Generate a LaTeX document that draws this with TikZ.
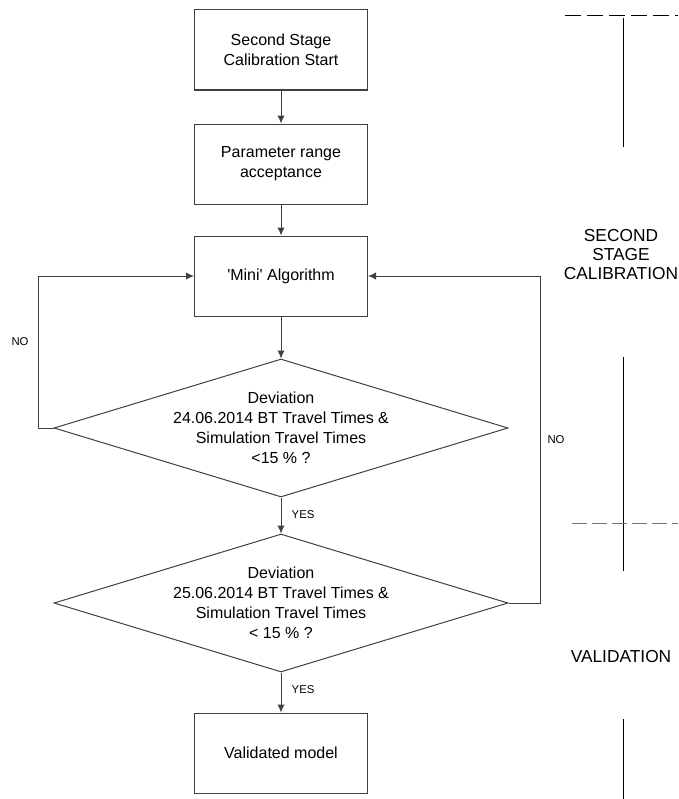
\documentclass[tikz,border=0pt]{standalone}
\usepackage{fontspec}
\setmainfont{Liberation Sans}
\usetikzlibrary{shapes,arrows.meta,positioning}
\tikzstyle{block}=[rectangle, draw=black!75, line width=0.75pt, minimum width=129.75pt, minimum height=60pt, inner sep=2pt, align=center, font=\fontsize{12}{15}\selectfont]
\tikzstyle{dia}=[diamond, draw=black!75, line width=0.75pt, minimum width=340.5pt, minimum height=103.5pt, inner sep=0pt]
\tikzstyle{txt}=[align=center, font=\fontsize{12}{15}\selectfont]
\tikzstyle{lbl}=[font=\fontsize{8.5}{10}\selectfont]
\tikzstyle{stage}=[align=center, font=\fontsize{13}{14.25}\selectfont]
\tikzstyle{l1}=[line width=0.75pt, draw=black!75, -{Latex[length=6pt, width=5.5pt]}]
\tikzstyle{sep}=[line width=0.65pt, black]

\begin{document}
\begin{tikzpicture}[x=0.75pt,y=-0.75pt]
    \useasboundingbox (0,0) rectangle (678,799);

    \node[block] (start) at (281, 50)  {Second Stage\\Calibration Start};
    \node[block] (range) at (281, 164) {Parameter range\\acceptance};
    \node[block] (mini)  at (281, 276) {\textquotesingle Mini\textquotesingle{} Algorithm};
    \node[dia]   (d1)    at (281, 428) {};
    \node[txt]           at (d1)       {Deviation\\24.06.2014 BT Travel Times \&\\Simulation Travel Times\\<15 \% ?};
    \node[dia]   (d2)    at (281, 603) {};
    \node[txt]           at (d2)       {Deviation\\25.06.2014 BT Travel Times \&\\Simulation Travel Times\\< 15 \% ?};
    \node[block] (valid) at (281, 753) {Validated model};

    \draw[l1] (start) -- (range);
    \draw[l1] (range) -- (mini);
    \draw[l1] (mini) -- (d1);
    \draw[l1] (d1.south) -- (d2.north);
    \draw[l1] (d2.south) -- (valid);
    \draw[l1] (d1.west) -- ++(-15,0) |- (mini.west);
    \draw[l1] (d2.east) -- ++(32,0) |- (mini.east);

    \node[lbl] at (20, 342) {NO};
    \node[lbl] at (556, 440) {NO};
    \node[lbl, anchor=west] at (287, 515) {YES};
    \node[lbl, anchor=west] at (287, 690) {YES};

    % stage separators
    \draw[sep, dash pattern=on 12pt off 4.5pt] (565, 15) -- (678, 15);
    \draw[sep] (623, 18) -- (623, 147);
    \draw[sep] (623, 357) -- (623, 571);
    \draw[line width=0.65pt, black!55, dash pattern=on 11pt off 4pt] (572, 523) -- (678, 523);
    \draw[sep] (623, 719) -- (623, 799);
    \node[stage] at (621, 255) {SECOND\\STAGE\\CALIBRATION};
    \node[stage] at (621, 657) {VALIDATION};
\end{tikzpicture}
\end{document}
